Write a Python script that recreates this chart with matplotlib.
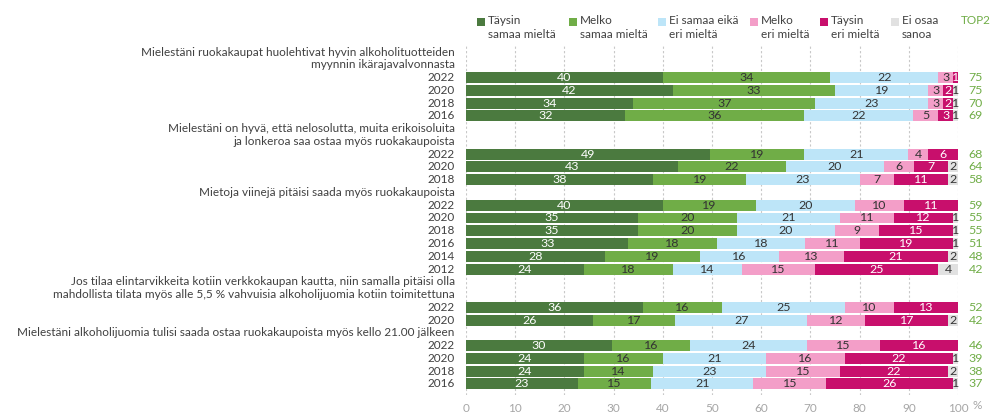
import matplotlib.pyplot as plt
from matplotlib.patches import Rectangle

plt.rcParams['font.family'] = ['Lato', 'DejaVu Sans']

# === Data ===
categories = ['Täysin\nsamaa mieltä', 'Melko\nsamaa mieltä', 'Ei samaa eikä\neri mieltä',
              'Melko\neri mieltä', 'Täysin\neri mieltä', 'Ei osaa\nsanoa']
colors = ['#4b7a3f', '#70ad47', '#bde5f8', '#f39ec8', '#c80f6c', '#e1e1e1']
text_colors = ['white', '#333333', '#333333', '#333333', 'white', '#333333']

q1_title = ['Mielestäni ruokakaupat huolehtivat hyvin alkoholituotteiden',
            'myynnin ikärajavalvonnasta']
q1_years = ['2022', '2020', '2018', '2016']
q1_vals = [[40, 34, 22, 3, 1, 0], [42, 33, 19, 3, 2, 1], [34, 37, 23, 3, 2, 1], [32, 36, 22, 5, 3, 1]]
q1_top2 = [75, 75, 70, 69]

q2_title = ['Mielestäni on hyvä, että nelosolutta, muita erikoisoluita',
            'ja lonkeroa saa ostaa myös ruokakaupoista']
q2_years = ['2022', '2020', '2018']
q2_vals = [[49, 19, 21, 4, 6, 0], [43, 22, 20, 6, 7, 2], [38, 19, 23, 7, 11, 2]]
q2_top2 = [68, 64, 58]

q3_title = ['Mietoja viinejä pitäisi saada myös ruokakaupoista']
q3_years = ['2022', '2020', '2018', '2016', '2014', '2012']
q3_vals = [[40, 19, 20, 10, 11, 0], [35, 20, 21, 11, 12, 1], [35, 20, 20, 9, 15, 1],
           [33, 18, 18, 11, 19, 1], [28, 19, 16, 13, 21, 2], [24, 18, 14, 15, 25, 4]]
q3_top2 = [59, 55, 55, 51, 48, 42]

q4_title = ['Jos tilaa elintarvikkeita kotiin verkkokaupan kautta, niin samalla pitäisi olla',
            'mahdollista tilata myös alle 5,5 % vahvuisia alkoholijuomia kotiin toimitettuna']
q4_years = ['2022', '2020']
q4_vals = [[36, 16, 25, 10, 13, 0], [26, 17, 27, 12, 17, 2]]
q4_top2 = [52, 42]

q5_title = ['Mielestäni alkoholijuomia tulisi saada ostaa ruokakaupoista myös kello 21.00 jälkeen']
q5_years = ['2022', '2020', '2018', '2016']
q5_vals = [[30, 16, 24, 15, 16, 0], [24, 16, 21, 16, 22, 1], [24, 14, 23, 15, 22, 2], [23, 15, 21, 15, 26, 1]]
q5_top2 = [46, 39, 38, 37]

groups = [(q1_title, q1_years, q1_vals, q1_top2),
          (q2_title, q2_years, q2_vals, q2_top2),
          (q3_title, q3_years, q3_vals, q3_top2),
          (q4_title, q4_years, q4_vals, q4_top2),
          (q5_title, q5_years, q5_vals, q5_top2)]

# === Figure ===
fig = plt.figure(figsize=(10, 4.17), dpi=100)
ax = fig.add_axes([0.466, 0.053, 0.492, 0.839])

label_col = '#404040'
fs = 8.5
num_fs = 8.9
slot = 0
for title, years, vals, top2 in groups:
    for line in title:
        ax.text(-2.3, slot, line, ha='right', va='center', fontsize=fs, color=label_col, clip_on=False)
        slot += 1
    for yr, row, t2 in zip(years, vals, top2):
        total = sum(row)
        left = 0
        for i, v in enumerate(row):
            w = v / total * 100
            if v > 0:
                ax.barh(slot, w, left=left, height=0.86, color=colors[i], edgecolor='none', zorder=2)
                ax.text(left + w / 2, slot, str(v), ha='center', va='center', fontsize=num_fs,
                        color=text_colors[i], zorder=3)
            left += w
        ax.text(-2.3, slot, yr, ha='right', va='center', fontsize=fs, color=label_col, clip_on=False)
        ax.text(103.6, slot, str(t2), ha='center', va='center', fontsize=num_fs, color='#70ad47', clip_on=False)
        slot += 1

ax.set_xlim(0, 100)
ax.set_ylim(slot - 1 + 0.86, -0.55)
ax.set_xticks(range(0, 101, 10))
ax.tick_params(axis='x', length=0, labelsize=fs, labelcolor='#a6a6a6', pad=6)
ax.set_yticks([])
for s in ax.spines.values():
    s.set_visible(False)
ax.grid(axis='x', color='#c8c8c8', linestyle=(0, (2, 2)), linewidth=0.8, zorder=0)
ax.text(103.0, -0.03, '%', transform=ax.get_xaxis_transform(), fontsize=fs, color='#a6a6a6',
        va='center', clip_on=False)

# === Legend ===
leg_x = [0.488, 0.580, 0.669, 0.761, 0.831, 0.902]
for x, c, lab in zip(leg_x, colors, categories):
    fig.patches.append(Rectangle((x - 0.0115, 0.937), 0.008, 0.02, transform=fig.transFigure,
                                 facecolor=c, edgecolor='none'))
    fig.text(x, 0.963, lab, ha='left', va='top', fontsize=fs, color=label_col, linespacing=1.3)
fig.text(0.961, 0.963, 'TOP2', ha='left', va='top', fontsize=fs, color='#70ad47')

fig.savefig('out.png', dpi=100)
